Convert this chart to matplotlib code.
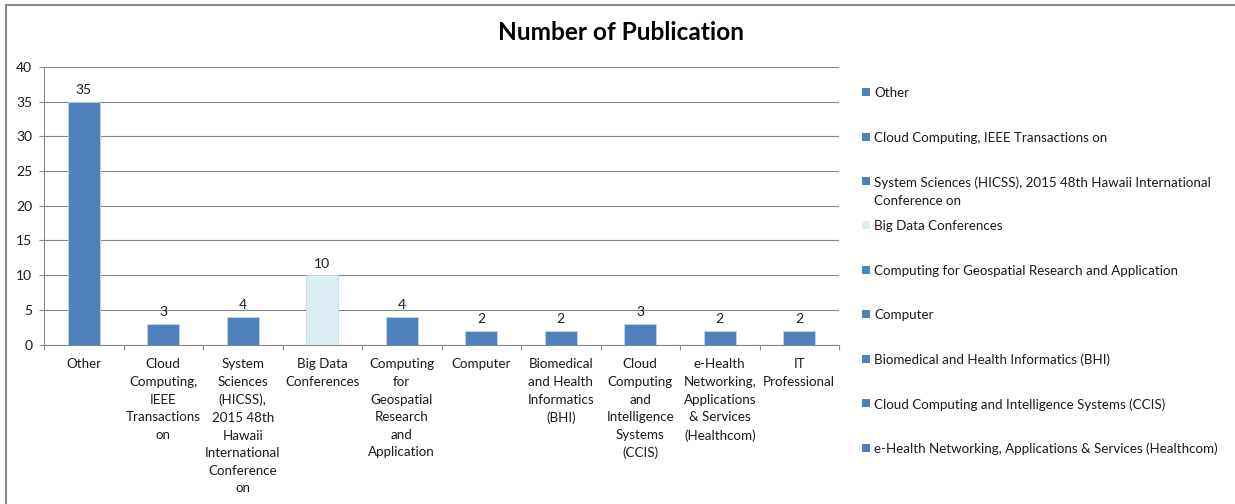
import numpy as np
import matplotlib.pyplot as plt
from matplotlib.patches import Rectangle

# Publication venues and counts
venues = ['Other',
          'Cloud Computing, IEEE Transactions on',
          'System Sciences (HICSS), 2015 48th Hawaii International Conference on',
          'Big Data Conferences',
          'Computing for Geospatial Research and Application',
          'Computer',
          'Biomedical and Health Informatics (BHI)',
          'Cloud Computing and Intelligence Systems (CCIS)',
          'e-Health Networking, Applications & Services (Healthcom)',
          'IT Professional']
counts = [35, 3, 4, 10, 4, 2, 2, 3, 2, 2]

# Axis labels wrapped the way they fit under each bar
tick_labels = ['Other',
               'Cloud\nComputing,\nIEEE\nTransactions\non',
               'System\nSciences\n(HICSS),\n2015 48th\nHawaii\nInternational\nConference\non',
               'Big Data\nConferences',
               'Computing\nfor\nGeospatial\nResearch\nand\nApplication',
               'Computer',
               'Biomedical\nand Health\nInformatics\n(BHI)',
               'Cloud\nComputing\nand\nIntelligence\nSystems\n(CCIS)',
               'e-Health\nNetworking,\nApplications\n& Services\n(Healthcom)',
               'IT\nProfessional']

# Legend text (the long one wraps onto two lines)
legend_labels = venues[:9]
legend_labels[2] = ('System Sciences (HICSS), 2015 48th Hawaii International\n'
                    'Conference on')

blue = '#4F81BD'
light = '#DAEEF3'
colors = [light if v == 'Big Data Conferences' else blue for v in venues]
grid_col = '#878787'
txt_col = '#1a1a1a'
fs = 9.6

plt.rcParams['font.family'] = ['Lato', 'DejaVu Sans']

W, H = 1235, 504
fig = plt.figure(figsize=(W / 100, H / 100), dpi=100)

# chart frame (only top and left edges fall inside the image)
fig.patches.append(Rectangle((6 / W, -0.1), 1.2, 1.1 - 5 / H,
                             transform=fig.transFigure, fill=False,
                             edgecolor='#8a8a8a', linewidth=1.5))

ax = fig.add_axes([44 / W, 1 - 344.5 / H, (839 - 44) / W, (344.5 - 67) / H])

x = np.arange(len(venues))
bars = ax.bar(x, counts, width=0.4, color=colors, edgecolor='#c5d5ea',
              linewidth=0.6, zorder=3)
ax.bar_label(bars, padding=4, fontsize=fs + 0.4, color=txt_col)

ax.set_xlim(-0.5, len(venues) - 0.5)
ax.set_ylim(0, 40)
ax.set_yticks(np.arange(0, 41, 5))
ax.yaxis.grid(True, color=grid_col, linewidth=0.8, zorder=0)
ax.set_axisbelow(True)

ax.set_xticks(x)
ax.set_xticklabels(tick_labels, fontsize=fs, linespacing=1.56,
                   color=txt_col)
ax.set_xticks(np.arange(-0.5, len(venues)), minor=True)
ax.tick_params(axis='x', which='major', length=0, pad=10)
ax.tick_params(axis='x', which='minor', length=3.5, color=grid_col,
               width=0.8)
ax.tick_params(axis='y', length=3.5, color=grid_col, width=0.8, pad=5,
               labelsize=fs + 0.4, labelcolor=txt_col)

for side in ['top', 'right']:
    ax.spines[side].set_visible(False)
for side in ['left', 'bottom']:
    ax.spines[side].set_color(grid_col)
    ax.spines[side].set_linewidth(0.8)

fig.text(621 / W, 1 - 33 / H, 'Number of Publication', ha='center',
         va='center', fontsize=17.6, fontweight='bold')

# legend drawn by hand: square marker plus label, evenly spaced
for i, lab in enumerate(legend_labels):
    yc = 92.3 + 44.4 * i
    fig.patches.append(Rectangle((862 / W, 1 - (yc + 4) / H), 8 / W, 8 / H,
                                 transform=fig.transFigure,
                                 facecolor=colors[i], edgecolor='none'))
    fig.text(874 / W, 1 - (yc - 5) / H, lab, ha='left', va='top',
             fontsize=fs, linespacing=1.64, color=txt_col)

fig.savefig('out.png', dpi=100)
